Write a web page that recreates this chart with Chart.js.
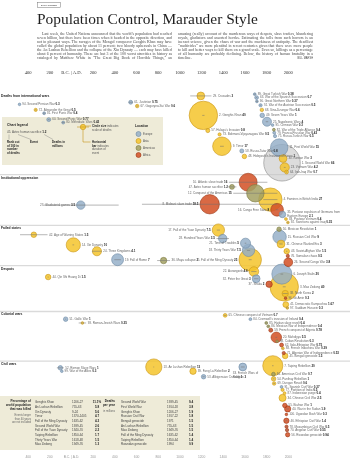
<!DOCTYPE html>
<html>
<head>
<meta charset="utf-8">
<script src="https://cdn.jsdelivr.net/npm/chart.js@4.4.1/dist/chart.umd.min.js"></script>
<style>
  html, body { margin: 0; padding: 0; background: #fff; }
  #chart { display: block; }
</style>
</head>
<body>
<canvas id="chart" width="350" height="461"></canvas>
<script>
// ---- data ----
const yearTicks = [-400, -200, 0, 200, 400, 600, 800, 1000, 1200, 1400, 1600, 1800, 2000];
const yearTickLabels = ['400', '200', 'B.C. | A.D.', '200', '400', '600', '800', '1000', '1200', '1400', '1600', '1800', '2000'];
const locations = ['Europe', 'Asia', 'Americas', 'Africa'];

// [event, start year, end year, deaths in millions, location]
const internationalWars = [
  ['Second Persian War', -480, -479, 0.3, 'Europe'],
  ['Alexander the Great', -336, -325, 0.5, 'Asia'],
  ['First Punic War', -264, -241, 0.4, 'Europe'],
  ['Second Punic War', -218, -202, 0.77, 'Europe'],
  ['Mithridatic Wars', -90, -63, 0.42, 'Europe'],
  ['Justinian', 527, 565, 0.75, 'Europe'],
  ['Goguryeo-Sui War', 598, 614, 0.6, 'Asia'],
  ['Crusades', 1095, 1291, 3, 'Asia'],
  ['Genghis Khan', 1206, 1227, 40, 'Asia'],
  ["Hulagu's Invasion", 1255, 1260, 0.8, 'Asia'],
  ['Bahmani-Vijayanagara War', 1366, 1366, 0.5, 'Asia'],
  ['Timur', 1370, 1405, 17, 'Asia'],
  ['Russo-Tatar War', 1570, 1572, 0.8, 'Europe'],
  ["Hideyoshi's Invasion of Korea", 1592, 1598, 1, 'Asia'],
  ['Great Turkish War', 1682, 1699, 0.38, 'Europe'],
  ['War of the Spanish Succession', 1701, 1714, 0.7, 'Europe'],
  ['Great Northern War', 1700, 1721, 0.37, 'Europe'],
  ['War of the Austrian Succession', 1740, 1748, 0.5, 'Europe'],
  ['Sino-Dzungar War', 1755, 1757, 0.6, 'Asia'],
  ['Seven Years War', 1756, 1763, 1, 'Europe'],
  ['Napoleonic Wars', 1792, 1815, 4, 'Europe'],
  ['Crimean War', 1854, 1856, 0.3, 'Europe'],
  ['War of the Triple Alliance', 1864, 1870, 0.4, 'Americas'],
  ['Franco-Prussian War', 1870, 1871, 0.43, 'Europe'],
  ['Russo-Turkish War', 1877, 1878, 0.5, 'Europe'],
  ['First World War', 1914, 1918, 15, 'Europe'],
  ['Second World War', 1939, 1945, 66, 'World'],
  ['Korean War', 1950, 1953, 3, 'Asia'],
  ['Vietnam War', 1959, 1975, 4.2, 'Asia'],
  ['Iran-Iraq War', 1980, 1988, 0.7, 'Asia']
];

const institutionalOppression = [
  ['Gladiatorial games', -264, 435, 3.5, 'Europe'],
  ['Mideast slave trade', 650, 1900, 18.5, 'Africa'],
  ['Atlantic slave trade', 1452, 1807, 16, 'Africa'],
  ['Aztec human sacrifice', 1440, 1521, 1.2, 'Americas'],
  ['Conquest of the Americas', 1492, 1900, 15, 'Americas'],
  ['Famines in British India', 1769, 1900, 27, 'Asia'],
  ['Congo Free State', 1885, 1908, 8, 'Africa'],
  ['Postwar expulsion of Germans from Eastern Europe', 1945, 1947, 2.1, 'Europe'],
  ['Postwar Vietnam', 1975, 1982, 0.4, 'Asia'],
  ['Sanctions against Iraq', 1990, 2003, 0.35, 'Asia']
];

const failedStates = [
  ['Age of Warring States', -475, -221, 1.5, 'Asia'],
  ['Xin Dynasty', 9, 24, 10, 'Asia'],
  ['Three Kingdoms', 189, 280, 4.1, 'Asia'],
  ['Fall of Rome', 395, 455, 7, 'Europe'],
  ['Maya collapse', 790, 909, 2, 'Americas'],
  ['Fall of the Yuan Dynasty', 1340, 1370, 7.5, 'Asia'],
  ['Hundred Years War', 1337, 1453, 3.5, 'Europe'],
  ['Time of Troubles', 1598, 1613, 5, 'Europe'],
  ['Thirty Years War', 1618, 1648, 7.5, 'Europe'],
  ['Fall of the Ming Dynasty', 1635, 1662, 25, 'Asia'],
  ['Mexican Revolution', 1910, 1920, 1, 'Americas'],
  ['Russian Civil War', 1917, 1922, 9, 'Europe'],
  ['Chinese Warlord Era', 1917, 1949, 3, 'Asia'],
  ['Soviet-Afghan War', 1979, 1992, 1.5, 'Asia'],
  ['Somalian chaos', 1991, 2000, 0.5, 'Africa'],
  ['Second Congo War', 1998, 2002, 3.8, 'Africa']
];

const despots = [
  ['Qin Shi Huang Di', -221, -210, 1.5, 'Asia'],
  ['Aurangzeb', 1658, 1707, 4.6, 'Asia'],
  ['Peter the Great', 1682, 1725, 3, 'Europe'],
  ['Shaka', 1818, 1828, 2, 'Africa'],
  ['Joseph Stalin', 1928, 1953, 20, 'Europe'],
  ['Mao Zedong', 1949, 1976, 40, 'Asia'],
  ['North Korea', 1948, 1996, 2, 'Asia'],
  ['Idi Amin', 1971, 1979, 0.3, 'Africa'],
  ['Democratic Kampuchea', 1975, 1979, 1.67, 'Asia'],
  ['Saddam Hussein', 1979, 2003, 0.3, 'Asia']
];

const colonialWars = [
  ['Gallic War', -58, -50, 1, 'Europe'],
  ['Roman-Jewish Wars', 66, 135, 0.35, 'Asia'],
  ['Chinese conquest of Vietnam', 1407, 1428, 0.7, 'Asia'],
  ["Cromwell's invasion of Ireland", 1649, 1652, 0.4, 'Europe'],
  ['Haitian slave revolt', 1791, 1803, 0.4, 'Americas'],
  ['Mexican War of Independence', 1810, 1821, 0.4, 'Americas'],
  ['French conquest of Algeria', 1830, 1847, 0.78, 'Africa'],
  ['Mahdiyya', 1881, 1898, 5.5, 'Africa'],
  ['Cuban Revolution', 1895, 1898, 0.3, 'Americas'],
  ['Italo-Ethiopian War', 1935, 1941, 0.75, 'Africa'],
  ['French Indochina War', 1945, 1954, 0.39, 'Asia'],
  ['Algerian War of Independence', 1954, 1962, 0.53, 'Africa'],
  ['Bengali genocide', 1971, 1971, 1.5, 'Asia']
];

const civilWars = [
  ['Roman Slave Wars', -135, -71, 1, 'Europe'],
  ['War of the Allies', -91, -88, 0.3, 'Europe'],
  ['An Lushan Rebellion', 755, 763, 13, 'Asia'],
  ['Fang La Rebellion', 1120, 1122, 2, 'Asia'],
  ['Albigensian Crusade', 1208, 1229, 1, 'Europe'],
  ['French Wars of Religion', 1562, 1598, 3, 'Europe'],
  ['Taiping Rebellion', 1850, 1864, 20, 'Asia'],
  ['American Civil War', 1861, 1865, 0.7, 'Americas'],
  ['Panthay Rebellion', 1856, 1873, 1, 'Asia'],
  ['Dungan Revolt', 1862, 1877, 0.6, 'Asia'],
  ['Spanish Civil War', 1936, 1939, 0.37, 'Europe'],
  ['Partition of India', 1947, 1947, 0.5, 'Asia'],
  ['Indonesian purge', 1965, 1966, 0.4, 'Asia'],
  ['Chinese Civil War', 1945, 1949, 2.5, 'Asia'],
  ['Biafran War', 1966, 1970, 1, 'Africa'],
  ['War in the Sudan', 1983, 2005, 1.9, 'Africa'],
  ['Ugandan Bush War', 1979, 1986, 0.3, 'Africa'],
  ['Ethiopian Civil War', 1974, 1991, 1.4, 'Africa'],
  ['Mozambican Civil War', 1975, 1992, 0.5, 'Africa'],
  ['Angolan Civil War', 1975, 2002, 0.55, 'Africa'],
  ['Rwandan genocide', 1994, 1994, 0.94, 'Africa']
];

// tables at the bottom
const pctEvents = ['Genghis Khan', 'An Lushan Rebellion', 'Xin Dynasty', 'Timur', 'Fall of the Ming Dynasty', 'Second World War', 'Fall of the Yuan Dynasty', 'Taiping Rebellion', 'Thirty Years War', 'Mao Zedong'];
const pctYears = ['1206-27', '755-63', '9-24', '1370-1405', '1635-62', '1939-45', '1340-70', '1850-64', '1618-48', '1949-76'];
const pctValues = ['11.1%', '5.8', '5.6', '4.7', '4.2', '2.6', '2.2', '1.7', '1.5', '1.3'];
const rateEvents = ['Second World War', 'First World War', 'Genghis Khan', 'Russian Civil War', 'Bengali genocide', 'An Lushan Rebellion', 'Mao Zedong', 'Fall of the Ming Dynasty', 'Taiping Rebellion', 'Rwandan genocide'];
const rateYears = ['1939-45', '1914-18', '1206-27', '1917-22', '1971', '755-63', '1949-76', '1635-62', '1850-64', '1994'];
const rateValues = ['9.4', '3.8', '1.9', '1.8', '1.5', '1.5', '1.5', '1.4', '1.4', '0.9'];

const introText = 'Last week, the United Nations announced that the world\u2019s population had reached seven billion, but there have been times when it headed in the opposite direction, and not in pleasant ways. The ravages of the Mongol conqueror Genghis Khan may have culled the global population by about 11 percent; two bloody upheavals in China \u2014 the An Lushan Rebellion and the collapse of the Xin Dynasty \u2014 each may have killed about 6 percent of humanity. These are but 3 of the 100 worst atrocities in history as cataloged by Matthew White in \u201cThe Great Big Book of Horrible Things,\u201d an amusing (really) account of the murderous ways of despots, slave traders, blundering royals, gladiators and assorted hordes. Estimating the tolls from such horrors is an inexact science, given the chaos of war and the murkiness of antiquity. The deadliest \u201cmulticides\u201d are more plentiful in recent centuries given that there were more people to kill and better ways to kill them on a grand scale. Even so, killings as a percentage of all humanity are probably declining. Below, the history of human brutality in a timeline.';

// ---- layout ----
const sections = [
  { title: 'Deaths from international wars', events: internationalWars, row: 18.2,
    lanes: [2.0, 3.3, 4.1, 5.6, 6.3, 1.5, 2.4, 0.0, 4.6, 8.2, 9.1, 11.9, 13.0, 14.3, -0.4, 0.4, 1.3, 2.2, 3.3, 4.6, 6.1, 6.9, 8.0, 8.7, 9.5, 12.2, 15.8, 14.8, 16.9, 18.0],
    sides: 'r'.repeat(30) },
  { title: 'Institutional oppression', events: institutionalOppression, row: 37.5,
    lanes: [6.5, 6.3, 1.1, 2.2, 3.7, 5.2, 7.6, 8.7, 9.8, 10.6],
    sides: 'llLlLrlrrr' },
  { title: 'Failed states', events: failedStates, row: 49.5,
    lanes: [1.5, 3.9, 5.4, 7.4, 7.6, 0.4, 2.4, 3.5, 5.2, 7.4, 0.2, 2.0, 3.7, 5.4, 6.5, 8.0],
    sides: 'rrrrrlLlllrrrrrr' },
  { title: 'Despots', events: despots, row: 59.0,
    lanes: [2.0, 0.7, 2.4, 3.7, 1.3, 4.3, 5.9, 7.0, 8.5, 9.3],
    sides: 'rLLlrrrrrr' },
  { title: 'Colonial wars', events: colonialWars, row: 69.85,
    lanes: [1.1, 2.0, 0.2, 1.1, 2.0, 2.8, 3.7, 5.4, 6.3, 7.2, 8.0, 9.1, 9.8],
    sides: 'r'.repeat(13) },
  { title: 'Civil wars', events: civilWars, row: 81.55,
    lanes: [0.9, 1.7, 0.7, 1.7, 3.0, 0.7, 0.4, 2.4, 3.5, 4.6, 5.4, 6.1, 6.9, 8.0, 9.8, 10.6, 11.9, 13.4, 14.8, 15.6, 16.7],
    sides: 'rrrrrb' + 'r'.repeat(15) }
];

const fills = {
  Europe: 'rgba(146,173,199,0.82)', Asia: 'rgba(245,196,44,0.85)', Americas: 'rgba(163,161,99,0.85)',
  Africa: 'rgba(212,84,42,0.88)', World: 'rgba(196,196,196,0.6)'
};
const strokes = { Europe: '#6d89a4', Asia: '#c8951a', Americas: '#7c7a43', Africa: '#9c3816', World: '#8c8c8c' };
const rPerRoot = 2.25;
const beige = '#eeebd8';
const SANS = '"Liberation Sans", Arial, sans-serif';
const SERIF = '"Liberation Serif", "Times New Roman", serif';

// ranks out of 100 by deaths
const allEvents = [];
sections.forEach(s => s.events.forEach((e, i) => allEvents.push({ e, s, i })));
const byDeaths = allEvents.slice().sort((a, b) => b.e[3] - a.e[3]);
byDeaths.forEach((o, k) => { o.rank = k + 1; });

const points = allEvents.map(o => ({
  x: (o.e[1] + o.e[2]) / 2,
  y: o.s.row + o.s.lanes[o.i],
  r: Math.max(1.3, rPerRoot * Math.sqrt(o.e[3])),
  name: o.e[0], start: o.e[1], end: o.e[2], deaths: o.e[3], loc: o.e[4],
  rank: o.rank, side: o.s.sides[o.i]
})).sort((a, b) => b.deaths - a.deaths);

// ---- drawing helpers ----
function font(size, bold, fam) { return (bold ? 'bold ' : '') + size + 'px ' + (fam || SANS); }

function wrapWords(ctx, text, width, firstIndent) {
  const words = text.split(' ');
  const lines = [];
  let line = [];
  words.forEach(w => {
    const w0 = lines.length === 0 ? width - (firstIndent || 0) : width;
    const t = line.concat(w).join(' ');
    if (line.length && ctx.measureText(t).width > w0) { lines.push(line); line = [w]; }
    else line.push(w);
  });
  if (line.length) lines.push(line);
  return lines;
}

function drawJustified(ctx, words, x, y, width, justify) {
  if (!justify || words.length < 2) { ctx.fillText(words.join(' '), x, y); return; }
  const total = words.reduce((s, w) => s + ctx.measureText(w).width, 0);
  const gap = (width - total) / (words.length - 1);
  let cx = x;
  words.forEach(w => { ctx.fillText(w, cx, y); cx += ctx.measureText(w).width + gap; });
}

function drawLabel(ctx, p, cx, cy, x0, x1) {
  const prefix = p.rank + '. ' + p.name + ' ';
  const num = String(p.deaths);
  const fs = 3;
  ctx.textBaseline = 'middle';
  ctx.font = font(fs, false);
  const wPre = ctx.measureText(prefix).width;
  ctx.font = font(fs, true);
  const wNum = ctx.measureText(num).width;
  const total = wPre + wNum;
  let lx;
  if (p.side === 'l') lx = cx - p.r - 1.5 - total;
  else if (p.side === 'L') lx = Math.min(cx - p.r, x0) - 1.5 - total;
  else if (p.side === 'b') lx = cx - 10;
  else lx = Math.max(cx + p.r, x1) + 1.5;
  const avail = 349 - lx;
  const lines = [];
  if (p.side === 'b' || total > avail) {
    const words = prefix.trim().split(' ');
    const lim = p.side === 'b' ? 26 : avail;
    ctx.font = font(fs, false);
    let first = [];
    while (words.length && ctx.measureText(first.concat(words[0]).join(' ')).width < lim) first.push(words.shift());
    lines.push([first.join(' '), '']);
    lines.push([words.join(' ') + ' ', num]);
  } else {
    lines.push([prefix, num]);
  }
  let ly = p.side === 'b' ? cy + p.r + 2.2 : cy - (lines.length - 1) * 1.8;
  lines.forEach(([t, n]) => {
    ctx.font = font(fs, false);
    ctx.fillStyle = '#666';
    ctx.textAlign = 'left';
    ctx.fillText(t, lx, ly);
    if (n) {
      const w = ctx.measureText(t).width;
      ctx.font = font(fs, true);
      ctx.fillStyle = '#2a2a2a';
      ctx.fillText(n, lx + w, ly);
    }
    ly += 3.6;
  });
}

function circle(ctx, x, y, r, loc) {
  ctx.beginPath();
  ctx.arc(x, y, r, 0, Math.PI * 2);
  ctx.fillStyle = fills[loc];
  ctx.fill();
  ctx.lineWidth = 0.6;
  ctx.strokeStyle = strokes[loc];
  ctx.stroke();
}

// ---- background: header, axes, boxes, section rules ----
const backdrop = {
  id: 'backdrop',
  beforeDatasetsDraw(chart) {
    const ctx = chart.ctx;
    const xs = chart.scales.x, ys = chart.scales.y;
    ctx.save();

    // tag + title
    ctx.strokeStyle = '#777'; ctx.lineWidth = 0.5;
    ctx.strokeRect(37.5, 2.5, 23, 5);
    ctx.fillStyle = '#444'; ctx.font = font(2.4, true);
    ctx.textAlign = 'center'; ctx.textBaseline = 'middle';
    ctx.fillText('DATA POINTS', 49, 5.1);

    ctx.font = '16px ' + SERIF;
    const tw = ctx.measureText('Population Control, Marauder Style').width;
    ctx.font = (16 * 221 / tw).toFixed(2) + 'px ' + SERIF;
    ctx.fillStyle = '#1e1e1e'; ctx.textAlign = 'left'; ctx.textBaseline = 'alphabetic';
    ctx.fillText('Population Control, Marauder Style', 37, 23.5);

    // intro in two columns
    ctx.font = font(3.9, false, SERIF);
    ctx.fillStyle = '#4a4a4a';
    const colW = 135;
    const lines = wrapWords(ctx, introText, colW, 5);
    lines.forEach((ln, k) => {
      const col = k < 7 ? 0 : 1;
      const row = k % 7;
      const x = (col ? 178 : 37) + (k === 0 ? 5 : 0);
      const last = k === lines.length - 1;
      drawJustified(ctx, ln, x, 34.5 + row * 4.1, colW - (k === 0 ? 5 : 0), !last);
      if (last) {
        ctx.font = font(2.6, false);
        ctx.textAlign = 'right';
        ctx.fillText('BILL MARSH', 178 + colW, 34.5 + row * 4.1);
        ctx.textAlign = 'left';
      }
    });

    // year labels top and bottom
    yearTicks.forEach((yr, k) => {
      const px = xs.getPixelForValue(yr);
      ctx.textAlign = 'center'; ctx.textBaseline = 'middle';
      ctx.font = font(4.6, false, SERIF); ctx.fillStyle = '#333';
      ctx.fillText(yearTickLabels[k], px, 73);
      ctx.font = font(3.3, false); ctx.fillStyle = '#999';
      ctx.fillText(yearTickLabels[k], px, 457);
    });

    // legend box
    ctx.fillStyle = beige;
    ctx.fillRect(2, 117, 161, 48);
    ctx.textAlign = 'left'; ctx.textBaseline = 'middle';
    ctx.fillStyle = '#222'; ctx.font = font(3.4, true);
    ctx.fillText('Chart legend', 7, 125);
    ctx.font = font(3, false); ctx.fillStyle = '#555';
    ctx.fillText('45. Aztec human sacrifice', 7, 132.5);
    const aw = ctx.measureText('45. Aztec human sacrifice ').width;
    ctx.font = font(3, true); ctx.fillStyle = '#222';
    ctx.fillText('1.2', 7 + aw, 132.5);
    ctx.strokeStyle = '#777'; ctx.lineWidth = 0.4;
    [[9, 9], [18, 31], [7 + aw + 2, 53]].forEach(([a, b]) => {
      ctx.beginPath(); ctx.moveTo(a, 134.5); ctx.lineTo(b, 139.5); ctx.stroke();
    });
    ctx.font = font(2.9, true); ctx.fillStyle = '#222';
    ['Rank out', 'of 100 in', 'number', 'of deaths'].forEach((t, k) => ctx.fillText(t, 7, 142 + k * 3.8));
    ctx.fillText('Event', 30, 142);
    ['Deaths in', 'millions'].forEach((t, k) => ctx.fillText(t, 52, 142 + k * 3.8));

    ctx.strokeStyle = '#888'; ctx.lineWidth = 0.5;
    circle(ctx, 83, 127, 2.7, 'Asia');
    ctx.beginPath(); ctx.moveTo(77, 127); ctx.lineTo(89, 127); ctx.stroke();
    ctx.beginPath(); ctx.moveTo(86, 126); ctx.lineTo(91, 126); ctx.stroke();
    ctx.beginPath(); ctx.moveTo(83, 130); ctx.lineTo(83, 142); ctx.lineTo(90.5, 142); ctx.stroke();
    ctx.font = font(2.9, true); ctx.fillStyle = '#222';
    ctx.fillText('Circle size', 92, 126);
    const cw = ctx.measureText('Circle size ').width;
    ctx.font = font(2.9, false); ctx.fillStyle = '#555';
    ctx.fillText('indicates', 92 + cw, 126);
    ctx.fillText('scale of deaths', 92, 129.8);
    ctx.font = font(2.9, true); ctx.fillStyle = '#222';
    ctx.fillText('Horizontal', 92, 142);
    ctx.fillText('bar', 92, 145.8);
    const bw = ctx.measureText('bar ').width;
    ctx.font = font(2.9, false); ctx.fillStyle = '#555';
    ctx.fillText('indicates', 92 + bw, 145.8);
    ctx.fillText('duration of', 92, 149.6);
    ctx.fillText('event', 92, 153.4);

    ctx.font = font(3.2, true); ctx.fillStyle = '#222';
    ctx.fillText('Location', 135, 126);
    locations.forEach((loc, k) => {
      circle(ctx, 138.5, 134 + k * 7, 2.5, loc);
      ctx.font = font(2.9, false); ctx.fillStyle = '#555';
      ctx.fillText(loc, 143, 134 + k * 7);
    });

    // section rules and titles
    sections.forEach((s, k) => {
      const hy = ys.getPixelForValue(s.row);
      if (k > 0) {
        ctx.strokeStyle = '#dadada'; ctx.lineWidth = 1.3;
        ctx.beginPath(); ctx.moveTo(0, hy - 3); ctx.lineTo(350, hy - 3); ctx.stroke();
      }
      ctx.fillStyle = '#1a1a1a'; ctx.font = font(3.3, true);
      ctx.textAlign = 'left'; ctx.textBaseline = 'middle';
      ctx.fillText(s.title, 1, hy);
    });

    // tables
    ctx.fillStyle = beige;
    ctx.fillRect(0, 396, 200, 54);
    ctx.textBaseline = 'middle';
    ctx.textAlign = 'right'; ctx.fillStyle = '#222'; ctx.font = font(3.1, true);
    ['Percentage of', 'world population', 'that was killed'].forEach((t, k) => ctx.fillText(t, 31, 401.5 + k * 3.9));
    ctx.font = font(2.7, false); ctx.fillStyle = '#666';
    ['Events longer', 'than 40 years', 'are not included'].forEach((t, k) => ctx.fillText(t, 31, 415.5 + k * 3.5));
    ctx.font = font(3.1, true); ctx.fillStyle = '#222';
    ['Deaths', 'per year'].forEach((t, k) => ctx.fillText(t, 115, 401.5 + k * 3.9));
    ctx.font = font(2.7, false); ctx.fillStyle = '#666';
    ctx.fillText('in millions', 115, 411.5);
    pctEvents.forEach((t, k) => {
      const ry = 402.3 + k * 4.7;
      ctx.textAlign = 'left'; ctx.font = font(3, false); ctx.fillStyle = '#444';
      ctx.fillText(t, 35, ry);
      ctx.fillText(pctYears[k], 72, ry);
      ctx.textAlign = 'center'; ctx.font = font(3, true); ctx.fillStyle = '#222';
      ctx.fillText(pctValues[k], 97, ry);
    });
    rateEvents.forEach((t, k) => {
      const ry = 402.3 + k * 4.7;
      ctx.textAlign = 'left'; ctx.font = font(3, false); ctx.fillStyle = '#444';
      ctx.fillText(t, 121, ry);
      ctx.fillText(rateYears[k], 167, ry);
      ctx.textAlign = 'center'; ctx.font = font(3, true); ctx.fillStyle = '#222';
      ctx.fillText(rateValues[k], 191, ry);
    });
    ctx.restore();
  },

  // duration bars and event labels
  afterDatasetsDraw(chart) {
    const ctx = chart.ctx;
    const xs = chart.scales.x;
    const meta = chart.getDatasetMeta(0);
    ctx.save();
    points.forEach((p, i) => {
      const el = meta.data[i];
      const x0 = xs.getPixelForValue(p.start), x1 = xs.getPixelForValue(p.end);
      if (x1 - x0 > 0.8) {
        ctx.strokeStyle = 'rgba(110,110,110,0.85)'; ctx.lineWidth = 0.6;
        ctx.beginPath(); ctx.moveTo(x0, el.y); ctx.lineTo(x1, el.y); ctx.stroke();
      }
    });
    points.forEach((p, i) => {
      const el = meta.data[i];
      drawLabel(ctx, p, el.x, el.y, xs.getPixelForValue(p.start), xs.getPixelForValue(p.end));
    });
    ctx.restore();
  }
};

new Chart(document.getElementById('chart').getContext('2d'), {
  type: 'bubble',
  data: {
    datasets: [{
      label: 'Deaths in millions',
      data: points,
      backgroundColor: points.map(p => fills[p.loc]),
      borderColor: points.map(p => strokes[p.loc]),
      borderWidth: 0.6,
      clip: false
    }]
  },
  options: {
    responsive: false,
    animation: false,
    events: [],
    layout: { padding: 0 },
    plugins: { legend: { display: false }, tooltip: { enabled: false } },
    scales: {
      x: { type: 'linear', min: -485.6, max: 2395.1, display: false },
      y: { type: 'linear', min: 0, max: 100, reverse: true, display: false }
    }
  },
  plugins: [backdrop]
});
</script>
</body>
</html>
